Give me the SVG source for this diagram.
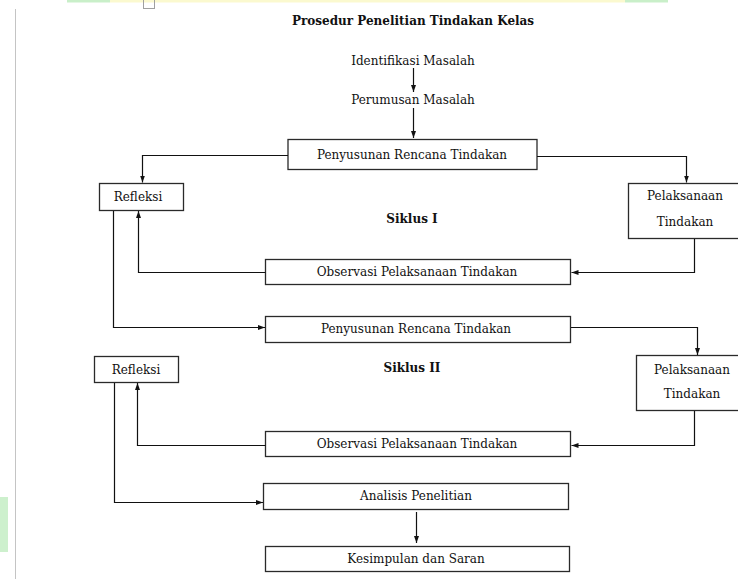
<svg xmlns="http://www.w3.org/2000/svg" width="738" height="579" viewBox="0 0 738 579">
<defs>
<style>
.box{fill:#fff;stroke:#2a2a2a;stroke-width:1.3}
.t{font-family:"DejaVu Serif","Liberation Serif",serif;font-size:12px;fill:#111;text-anchor:middle}
.b{font-weight:bold}
.c{fill:none;stroke:#111;stroke-width:1.2}
</style>
<marker id="ah" markerUnits="userSpaceOnUse" markerWidth="8" markerHeight="8" viewBox="0 0 8 8" refX="7" refY="4" orient="auto">
<path d="M0,1.5 L7,4 L0,6.5 Z" fill="#111"/>
</marker>
</defs>
<rect width="738" height="579" fill="#fff"/>
<g id="page">
<rect x="67" y="0" width="43" height="2.5" fill="#c9efc9"/>
<rect x="110" y="0" width="515" height="2.5" fill="#fbf9cf"/>
<rect x="625" y="0" width="43" height="2.5" fill="#c9efc9"/>
<rect x="143.5" y="-1" width="11" height="9.5" fill="none" stroke="#a0a0a0" stroke-width="1"/>
<line x1="15.5" y1="9" x2="15.5" y2="579" stroke="#c4c4c4" stroke-width="1"/>
<rect x="0" y="497" width="8" height="55" fill="#cdf0cd"/>
</g>
<text class="t b" x="413" y="25">Prosedur Penelitian Tindakan Kelas</text>
<g id="identifikasi"><text class="t" x="413" y="65">Identifikasi Masalah</text></g>
<g id="perumusan"><text class="t" x="413" y="104">Perumusan Masalah</text></g>
<g id="penyusunan1"><rect class="box" x="288" y="139.5" width="249" height="30"/><text class="t" x="412" y="159">Penyusunan Rencana Tindakan</text></g>
<g id="refleksi1"><rect class="box" x="99.5" y="183.5" width="84" height="27"/><text class="t" x="138" y="201">Refleksi</text></g>
<g id="pelaksanaan1"><rect class="box" x="628.5" y="183.5" width="114" height="55"/><text class="t" x="685" y="200">Pelaksanaan</text><text class="t" x="685" y="226">Tindakan</text></g>
<g id="siklus1"><text class="t b" x="412" y="223">Siklus I</text></g>
<g id="observasi1"><rect class="box" x="265.5" y="259.5" width="305" height="25"/><text class="t" x="417" y="276">Observasi Pelaksanaan Tindakan</text></g>
<g id="penyusunan2"><rect class="box" x="265.5" y="316.5" width="305" height="26"/><text class="t" x="416" y="333">Penyusunan Rencana Tindakan</text></g>
<g id="refleksi2"><rect class="box" x="94.5" y="356.5" width="84" height="26"/><text class="t" x="136" y="374">Refleksi</text></g>
<g id="siklus2"><text class="t b" x="412" y="372">Siklus II</text></g>
<g id="pelaksanaan2"><rect class="box" x="636.5" y="355.5" width="112" height="55"/><text class="t" x="692" y="374">Pelaksanaan</text><text class="t" x="692" y="398">Tindakan</text></g>
<g id="observasi2"><rect class="box" x="265.5" y="431.5" width="305" height="25"/><text class="t" x="417" y="448">Observasi Pelaksanaan Tindakan</text></g>
<g id="analisis"><rect class="box" x="263.5" y="483.5" width="305" height="26"/><text class="t" x="416" y="500">Analisis Penelitian</text></g>
<g id="kesimpulan"><rect class="box" x="265.5" y="546.5" width="304" height="25"/><text class="t" x="416" y="563">Kesimpulan dan Saran</text></g>
<g id="connectors">
<path class="c" d="M413.5,68 V92" marker-end="url(#ah)"/>
<path class="c" d="M413.5,108 V138" marker-end="url(#ah)"/>
<path class="c" d="M288,155.5 H142.5 V182.5" marker-end="url(#ah)"/>
<path class="c" d="M537,156.5 H686.5 V182.5" marker-end="url(#ah)"/>
<path class="c" d="M694.5,239 V272.5 H571.5" marker-end="url(#ah)"/>
<path class="c" d="M265.5,272.5 H138.5 V211" marker-end="url(#ah)"/>
<path class="c" d="M113.5,211 V327.5 H265" marker-end="url(#ah)"/>
<path class="c" d="M571,327.5 H697.5 V355" marker-end="url(#ah)"/>
<path class="c" d="M694.5,411 V445.5 H571.5" marker-end="url(#ah)"/>
<path class="c" d="M265.5,445.5 H137.5 V383" marker-end="url(#ah)"/>
<path class="c" d="M114.5,383 V502.5 H263" marker-end="url(#ah)"/>
<path class="c" d="M416.5,512 V543" marker-end="url(#ah)"/>
</g>
</svg>
